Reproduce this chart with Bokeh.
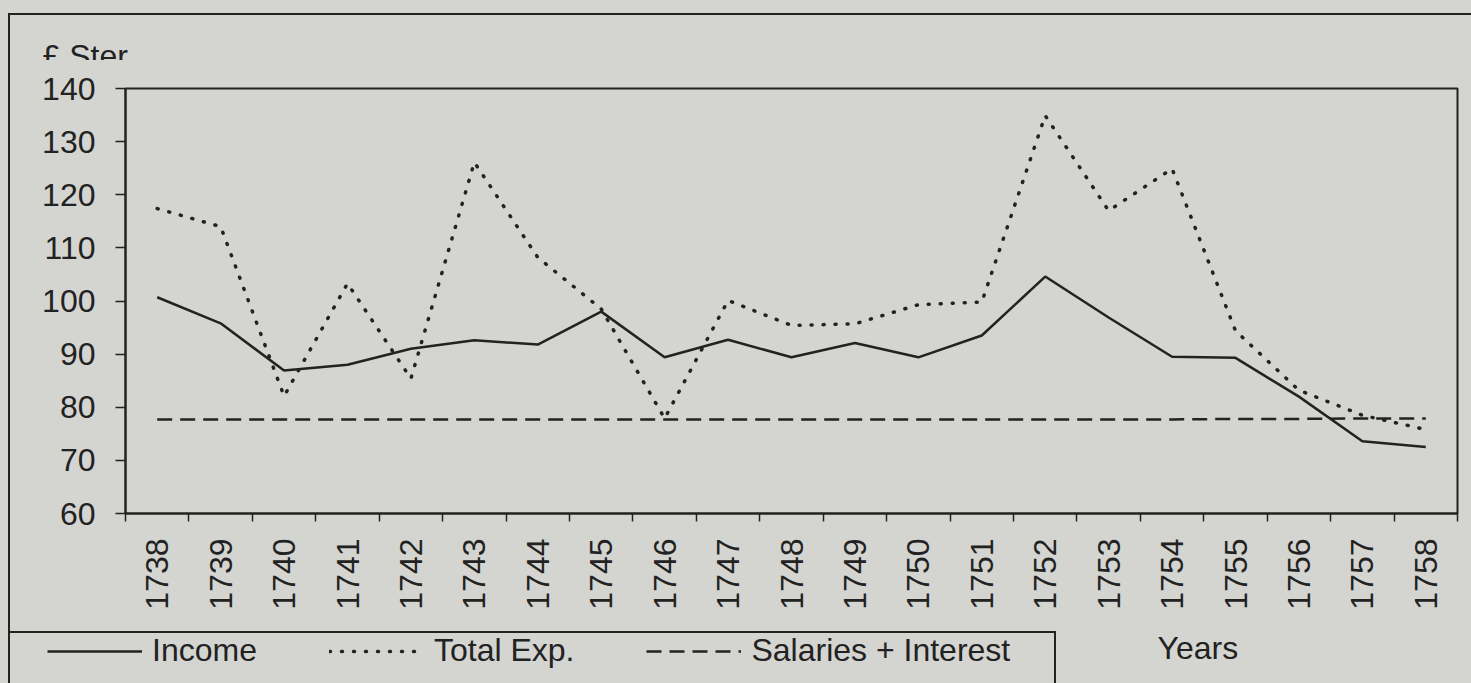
import math
from bokeh.plotting import figure
from bokeh.layouts import column
from bokeh.models import Range1d, FixedTicker, Legend, LegendItem, Label
from bokeh.embed import file_html
from bokeh.resources import INLINE

# ---- data ----
years = [1738, 1739, 1740, 1741, 1742, 1743, 1744, 1745, 1746, 1747, 1748,
         1749, 1750, 1751, 1752, 1753, 1754, 1755, 1756, 1757, 1758]
year_labels = ["1738", "1739", "1740", "1741", "1742", "1743", "1744", "1745",
               "1746", "1747", "1748", "1749", "1750", "1751", "1752", "1753",
               "1754", "1755", "1756", "1757", "1758"]
income = [100.7, 95.8, 86.9, 88.0, 91.0, 92.6, 91.8, 98.0, 89.4, 92.7, 89.4,
          92.1, 89.4, 93.5, 104.6, 96.9, 89.5, 89.3, 82.0, 73.6, 72.5]
total_exp = [117.4, 114.0, 82.1, 103.3, 85.4, 126.1, 108.2, 98.5, 77.9, 100.1, 95.4,
             95.7, 99.3, 99.8, 134.9, 117.0, 124.9, 94.4, 83.2, 78.5, 75.8]
salaries_interest = [77.7, 77.7, 77.7, 77.7, 77.7, 77.7, 77.7, 77.7, 77.7, 77.7, 77.7,
                     77.7, 77.7, 77.7, 77.7, 77.7, 77.7, 77.8, 77.8, 77.9, 77.9]
y_ticks = [60, 70, 80, 90, 100, 110, 120, 130, 140]
y_tick_labels = ["60", "70", "80", "90", "100", "110", "120", "130", "140"]
series_names = ["Income", "Total Exp.", "Salaries + Interest"]

BG = "#d4d5d1"
INK = "#222222"
FONT = "Liberation Sans"
FS = "32px"
W = 1471
H_TOP, H_MAIN, H_BOT = 60, 558, 65

STYLES = {
    "income": dict(line_color=INK, line_width=2.5),
    "total": dict(line_color=INK, line_width=3.5, line_dash="1 11", line_cap="round"),
    "sal": dict(line_color=INK, line_width=2.5, line_dash="15 8"),
}


def css(sizes, positions):
    return {
        "background-color": BG,
        "background-image": ", ".join(["linear-gradient(#222222, #222222)"] * len(sizes)),
        "background-size": ", ".join(sizes),
        "background-position": ", ".join(positions),
        "background-repeat": "no-repeat",
    }


def no_align(f):
    try:
        f.frame_align = False
    except Exception:
        pass
    return f


def strip(height, styles):
    f = figure(width=W, height=height, output_backend="svg", toolbar_location=None,
               title=None, x_range=Range1d(0, W), y_range=Range1d(0, height),
               x_axis_location=None, y_axis_location=None, min_border=0,
               styles=styles)
    f.grid.visible = False
    f.outline_line_color = None
    f.background_fill_alpha = 0
    f.border_fill_alpha = 0
    return no_align(f)


# ---- top strip: outer border + unit label ----
top = strip(H_TOP, css(["1463px 2px", "2px 47px"], ["8px 13px", "8px 13px"]))
top.add_layout(Label(x=42, y=5, x_units="screen", y_units="screen", text="£ Ster.",
                     text_font=FONT, text_font_size=FS, text_color=INK,
                     text_baseline="alphabetic"))

# ---- main chart ----
p = figure(width=W, height=H_MAIN, output_backend="svg", toolbar_location=None,
           title=None,
           x_range=Range1d(years[0] - 0.5, years[-1] + 0.5),
           y_range=Range1d(60, 140),
           min_border_left=125, min_border_right=14,
           min_border_top=28, min_border_bottom=105,
           styles=css(["2px 558px"], ["8px 0px"]))
no_align(p)
p.background_fill_color = BG
p.border_fill_alpha = 0
p.outline_line_color = INK
p.outline_line_width = 2
p.grid.visible = False

p.yaxis.ticker = FixedTicker(ticks=y_ticks, minor_ticks=[])
p.yaxis.major_label_overrides = dict(zip(y_ticks, y_tick_labels))
p.yaxis.major_tick_in = 0
p.yaxis.major_tick_out = 10
p.yaxis.minor_tick_out = 0
p.yaxis.minor_tick_in = 0
p.yaxis.major_label_standoff = 20
p.yaxis.axis_line_color = INK
p.yaxis.axis_line_width = 2
p.yaxis.major_tick_line_color = INK
p.yaxis.major_tick_line_width = 1.5
p.yaxis.major_label_text_font = FONT
p.yaxis.major_label_text_font_size = FS
p.yaxis.major_label_text_color = INK

# labels at year centres, tick marks at band boundaries
p.xaxis.ticker = FixedTicker(ticks=years,
                             minor_ticks=[y - 0.5 for y in years] + [years[-1] + 0.5])
p.xaxis.major_label_overrides = dict(zip(years, year_labels))
p.xaxis.major_tick_in = 0
p.xaxis.major_tick_out = 0
p.xaxis.minor_tick_in = 0
p.xaxis.minor_tick_out = 8
p.xaxis.minor_tick_line_color = INK
p.xaxis.minor_tick_line_width = 1.5
p.xaxis.major_label_orientation = math.pi / 2
p.xaxis.major_label_standoff = 17
p.xaxis.axis_line_color = INK
p.xaxis.axis_line_width = 2
p.xaxis.major_label_text_font = FONT
p.xaxis.major_label_text_font_size = FS
p.xaxis.major_label_text_color = INK

p.line(years, income, **STYLES["income"])
p.line(years, total_exp, **STYLES["total"])
p.line(years, salaries_interest, **STYLES["sal"])

# ---- bottom strip: legend box, legend, axis title ----
bot = strip(H_BOT, css(["2px 65px", "1047px 2px", "2px 52px"],
                       ["8px 0px", "8px 13px", "1054px 13px"]))
nan = float("nan")
k_inc = bot.line(x=[nan], y=[nan], **STYLES["income"])
k_tot = bot.line(x=[nan], y=[nan], **STYLES["total"])
k_sal = bot.line(x=[nan], y=[nan], **STYLES["sal"])
lg = Legend(items=[LegendItem(label=series_names[0], renderers=[k_inc], index=0),
                   LegendItem(label=series_names[1], renderers=[k_tot], index=0),
                   LegendItem(label=series_names[2], renderers=[k_sal], index=0)],
            orientation="horizontal", location=(47, 14),
            padding=0, margin=0, spacing=72, glyph_width=95, label_standoff=10,
            label_text_font=FONT, label_text_font_size=FS, label_text_color=INK,
            background_fill_alpha=0, border_line_alpha=0)
bot.add_layout(lg)
bot.add_layout(Label(x=1157, y=36, x_units="screen", y_units="screen", text="Years",
                     text_font=FONT, text_font_size=FS, text_color=INK,
                     text_baseline="alphabetic"))

layout = column(top, p, bot, spacing=0)
open("out.html", "w").write(file_html(layout, INLINE))
